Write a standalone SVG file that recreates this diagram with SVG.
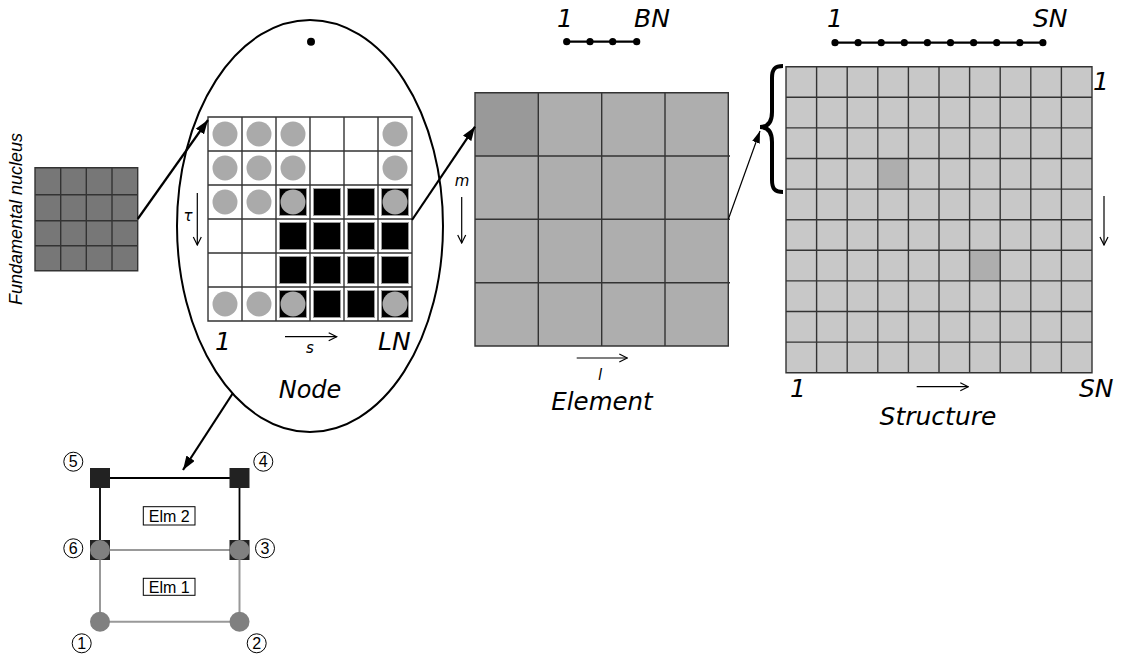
<svg xmlns="http://www.w3.org/2000/svg" width="1130" height="661" viewBox="0 0 1130 661">
<style>
.lbl{font-family:"DejaVu Sans",sans-serif;font-style:italic;fill:#000}
.big{font-size:25px}
.sm{font-size:15px}
.num{font-family:"Liberation Sans",Arial,sans-serif;font-size:16px;text-anchor:middle;fill:#000}
.grid{fill:none;stroke:#333;stroke-width:1.4}
.thick{stroke:#000;stroke-width:2.2;fill:none}
.thin{stroke:#000;stroke-width:1.2;fill:none}
.circ{fill:#aaa}
.blk{fill:#000;stroke:#999;stroke-width:1}
.ncirc{fill:#fff;stroke:#000;stroke-width:1}
</style>
<defs>
<marker id="ah" viewBox="0 0 14 10" refX="14" refY="5" markerWidth="14" markerHeight="10" markerUnits="userSpaceOnUse" orient="auto"><path d="M0,0 L14,5 L0,10 z" fill="#000"/></marker>
<marker id="ahs" viewBox="0 0 12 8" refX="12" refY="4" markerWidth="12" markerHeight="8" markerUnits="userSpaceOnUse" orient="auto"><path d="M0,0 L12,4 L0,8 z" fill="#000"/></marker>
<marker id="av" viewBox="0 0 10 10" refX="9" refY="5" markerWidth="10" markerHeight="10" markerUnits="userSpaceOnUse" orient="auto"><path d="M1,1 L9,5 L1,9" fill="none" stroke="#000" stroke-width="1.2"/></marker>
</defs>
<rect width="1130" height="661" fill="#fff"/>

<g id="fundamental-nucleus">
<rect x="35" y="167.7" width="102.7" height="103" fill="#777"/>
<path class="grid" stroke="#222" d="M35,167.7H137.7V270.7H35Z M60.7,167.7V270.7 M86.3,167.7V270.7 M112,167.7V270.7 M35,194.7H137.7 M35,220.7H137.7 M35,245.7H137.7"/>
<text class="lbl" style="font-family:'Liberation Sans',Arial,sans-serif;font-size:18px" text-anchor="middle" transform="translate(22,219) rotate(-90)">Fundamental nucleus</text>
</g>

<g id="node">
<ellipse cx="310" cy="226" rx="133" ry="206" fill="none" stroke="#000" stroke-width="2"/>
<circle cx="311" cy="41.7" r="4" fill="#000"/>
<rect x="208" y="117" width="204" height="204" fill="#fff"/>
<g>
<rect class="blk" x="279.5" y="188.5" width="27" height="27"/><rect class="blk" x="313.5" y="188.5" width="27" height="27"/><rect class="blk" x="347.5" y="188.5" width="27" height="27"/><rect class="blk" x="381.5" y="188.5" width="27" height="27"/>
<rect class="blk" x="279.5" y="222.5" width="27" height="27"/><rect class="blk" x="313.5" y="222.5" width="27" height="27"/><rect class="blk" x="347.5" y="222.5" width="27" height="27"/><rect class="blk" x="381.5" y="222.5" width="27" height="27"/>
<rect class="blk" x="279.5" y="256.5" width="27" height="27"/><rect class="blk" x="313.5" y="256.5" width="27" height="27"/><rect class="blk" x="347.5" y="256.5" width="27" height="27"/><rect class="blk" x="381.5" y="256.5" width="27" height="27"/>
<rect class="blk" x="279.5" y="290.5" width="27" height="27"/><rect class="blk" x="313.5" y="290.5" width="27" height="27"/><rect class="blk" x="347.5" y="290.5" width="27" height="27"/><rect class="blk" x="381.5" y="290.5" width="27" height="27"/>
</g>
<g>
<circle class="circ" cx="225" cy="134" r="12.5"/><circle class="circ" cx="259" cy="134" r="12.5"/><circle class="circ" cx="293" cy="134" r="12.5"/><circle class="circ" cx="395" cy="134" r="12.5"/>
<circle class="circ" cx="225" cy="168" r="12.5"/><circle class="circ" cx="259" cy="168" r="12.5"/><circle class="circ" cx="293" cy="168" r="12.5"/><circle class="circ" cx="395" cy="168" r="12.5"/>
<circle class="circ" cx="225" cy="202" r="12.5"/><circle class="circ" cx="259" cy="202" r="12.5"/><circle class="circ" cx="293" cy="202" r="12.5"/><circle class="circ" cx="395" cy="202" r="12.5"/>
<circle class="circ" cx="225" cy="304" r="12.5"/><circle class="circ" cx="259" cy="304" r="12.5"/><circle class="circ" cx="293" cy="304" r="12.5"/><circle class="circ" cx="395" cy="304" r="12.5"/>
</g>
<path class="grid" d="M208,117H412V321H208Z M242,117V321 M276,117V321 M310,117V321 M344,117V321 M378,117V321 M208,151H412 M208,185H412 M208,219H412 M208,253H412 M208,287H412"/>
<line class="thin" x1="197.3" y1="193" x2="197.3" y2="245" marker-end="url(#av)"/>
<text class="lbl sm" x="188" y="221" text-anchor="middle">τ</text>
<line class="thin" x1="285" y1="336.7" x2="336.7" y2="336.7" marker-end="url(#av)"/>
<text class="lbl sm" x="310" y="353" text-anchor="middle">s</text>
<text class="lbl big" x="215" y="350">1</text>
<text class="lbl big" x="378" y="350">LN</text>
<text class="lbl" x="310" y="398" font-size="24" text-anchor="middle">Node</text>
</g>

<g id="element">
<rect x="475" y="92.7" width="253.3" height="253.3" fill="#aeaeae"/>
<rect x="475" y="92.7" width="63.3" height="63.3" fill="#999"/>
<path class="grid" d="M475,92.7H728.3V346H475Z M538.3,92.7V346 M601.7,92.7V346 M665,92.7V346 M475,156H730 M475,219.3H730 M475,282.7H730"/>
<path class="thick" stroke-width="2" d="M566.7,41.7H636.7"/>
<circle cx="566.7" cy="41.7" r="3.6"/><circle cx="590" cy="41.7" r="3.6"/><circle cx="612.7" cy="41.7" r="3.6"/><circle cx="636.7" cy="41.7" r="3.6"/>
<text class="lbl big" x="557" y="27">1</text>
<text class="lbl big" x="634" y="27">BN</text>
<line class="thin" x1="461.7" y1="197" x2="461.7" y2="243" marker-end="url(#av)"/>
<text class="lbl sm" x="462" y="186" text-anchor="middle">m</text>
<line class="thin" x1="576.7" y1="358" x2="627.3" y2="358" marker-end="url(#av)"/>
<text class="lbl sm" x="600" y="380" text-anchor="middle">l</text>
<text class="lbl" x="602" y="410" font-size="24.5" text-anchor="middle">Element</text>
</g>

<g id="structure">
<rect x="786" y="66.7" width="306" height="306" fill="#c8c8c8"/>
<rect x="877.8" y="158.5" width="30.6" height="30.6" fill="#aeaeae"/>
<rect x="969.6" y="250.3" width="30.6" height="30.6" fill="#aeaeae"/>
<path class="grid" stroke-width="1.3" d="M786,66.7H1092V372.7H786Z M816.6,66.7V372.7 M847.2,66.7V372.7 M877.8,66.7V372.7 M908.4,66.7V372.7 M939,66.7V372.7 M969.6,66.7V372.7 M1000.2,66.7V372.7 M1030.8,66.7V372.7 M1061.4,66.7V372.7 M786,97.3H1092 M786,127.9H1092 M786,158.5H1092 M786,189.1H1092 M786,219.7H1092 M786,250.3H1092 M786,280.9H1092 M786,311.5H1092 M786,342.1H1092"/>
<path d="M783,66 C775,66 772,69 772,78 L772,112 C772,122 768,127 760,127 C768,127 772,132 772,142 L772,180 C772,189 775,192 783,192" fill="none" stroke="#000" stroke-width="4"/>
<path class="thick" stroke-width="2" d="M835,42.7H1043"/>
<circle cx="835" cy="42.7" r="3.6"/><circle cx="858.1" cy="42.7" r="3.6"/><circle cx="881.2" cy="42.7" r="3.6"/><circle cx="904.3" cy="42.7" r="3.6"/><circle cx="927.4" cy="42.7" r="3.6"/><circle cx="950.5" cy="42.7" r="3.6"/><circle cx="973.6" cy="42.7" r="3.6"/><circle cx="996.7" cy="42.7" r="3.6"/><circle cx="1019.8" cy="42.7" r="3.6"/><circle cx="1042.9" cy="42.7" r="3.6"/>
<text class="lbl big" x="827" y="27">1</text>
<text class="lbl big" x="1033" y="27">SN</text>
<text class="lbl big" x="1093" y="90">1</text>
<line class="thin" x1="1104" y1="196" x2="1104" y2="245" marker-end="url(#av)"/>
<line class="thin" x1="916.7" y1="386.7" x2="968.3" y2="386.7" marker-end="url(#av)"/>
<text class="lbl big" x="790" y="397">1</text>
<text class="lbl big" x="1079" y="397">SN</text>
<text class="lbl big" x="938" y="425" text-anchor="middle">Structure</text>
</g>

<g id="elements-detail">
<path d="M100,550V621.7H239.5V550 M100,550H239.5" fill="none" stroke="#999" stroke-width="2"/>
<path d="M100,478H239.5 M100,478V550 M239.5,478V550" fill="none" stroke="#000" stroke-width="1.8"/>
<rect x="90" y="468" width="20" height="20" fill="#222"/>
<rect x="229.5" y="468" width="20" height="20" fill="#222"/>
<rect x="90" y="540" width="20" height="20" fill="#222"/>
<rect x="229.5" y="540" width="20" height="20" fill="#222"/>
<circle cx="100" cy="550" r="10" fill="#808080"/>
<circle cx="239.5" cy="550" r="10" fill="#808080"/>
<circle cx="100" cy="621.7" r="10" fill="#808080"/>
<circle cx="239.5" cy="621.7" r="10" fill="#808080"/>
<rect x="143.3" y="506.7" width="51.7" height="18.3" fill="#fff" stroke="#000" stroke-width="1"/>
<text class="num" x="169.2" y="521.5">Elm 2</text>
<rect x="143.3" y="578.3" width="51.7" height="17" fill="#fff" stroke="#000" stroke-width="1"/>
<text class="num" x="169.2" y="592.5">Elm 1</text>
<circle class="ncirc" cx="73.3" cy="461.7" r="9.5"/><text class="num" x="73.3" y="467.4">5</text>
<circle class="ncirc" cx="263.3" cy="461.7" r="9.5"/><text class="num" x="263.3" y="467.4">4</text>
<circle class="ncirc" cx="73.3" cy="548.3" r="9.5"/><text class="num" x="73.3" y="554">6</text>
<circle class="ncirc" cx="265" cy="548.3" r="9.5"/><text class="num" x="265" y="554">3</text>
<circle class="ncirc" cx="81.7" cy="643.3" r="9.5"/><text class="num" x="81.7" y="649">1</text>
<circle class="ncirc" cx="256.7" cy="643.3" r="9.5"/><text class="num" x="256.7" y="649">2</text>
</g>

<g id="connectors">
<line class="thick" x1="137.7" y1="219" x2="208" y2="120" marker-end="url(#ah)"/>
<line class="thick" x1="412" y1="220" x2="475" y2="126.7" marker-end="url(#ah)"/>
<line class="thin" x1="728.3" y1="219.3" x2="760" y2="131" marker-end="url(#ahs)"/>
<line class="thick" x1="233" y1="393" x2="183" y2="470" marker-end="url(#ah)"/>
</g>
</svg>
